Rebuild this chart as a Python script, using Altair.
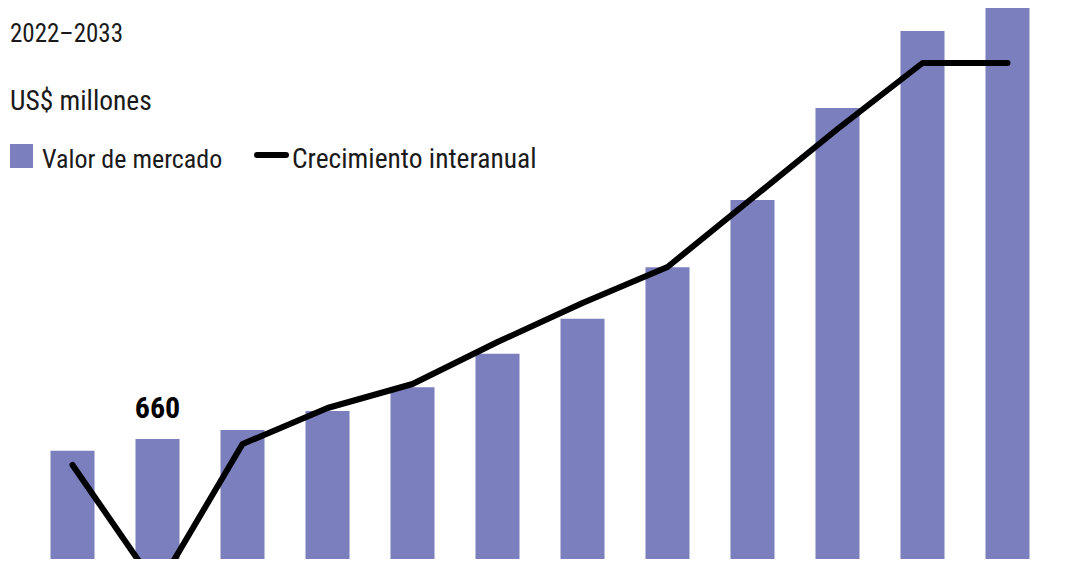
import altair as alt
import pandas as pd

years = ["2022", "2023", "2024", "2025", "2026", "2027", "2028", "2029", "2030", "2031", "2032", "2033"]
market_value = [643, 660, 673, 700, 734, 782, 832, 906, 1002, 1134, 1244, 1284]
yoy_growth = [4.5, 0.4, 5.2, 6.4, 7.2, 8.6, 9.9, 11.1, 13.4, 15.7, 17.9, 17.9]

title_text = "2022–2033"
unit_text = "US$ millones"
legend_bar = "Valor de mercado"
legend_line = "Crecimiento interanual"
highlight_year = "2023"

FONT = "Roboto Condensed, Liberation Sans Narrow, Arial Narrow, Roboto, sans-serif"
BAR_COLOR = "#7b7fbd"

df = pd.DataFrame({"year": years, "value": market_value, "growth": yoy_growth})

W, H = 1064, 551

xenc = alt.X("year:N", axis=None,
             scale=alt.Scale(paddingInner=0.482, paddingOuter=0.5))
yval = alt.Y("value:Q", axis=None, scale=alt.Scale(domain=[488.2, 1277], zero=False, nice=False))

bars = alt.Chart(df).mark_bar(color=BAR_COLOR, clip=True).encode(x=xenc, y=yval)

label = alt.Chart(df).transform_filter(
    alt.datum.year == highlight_year
).mark_text(font=FONT, fontSize=30, fontWeight="bold", color="#000000",
            baseline="bottom", dy=-15).encode(
    x=xenc, y=yval, text=alt.Text("value:Q"),
)

bar_layer = alt.layer(bars, label)

line = alt.Chart(df).mark_line(color="#000000", strokeWidth=6, strokeCap="round",
                               strokeJoin="round", clip=True).encode(
    x=xenc,
    y=alt.Y("growth:Q", axis=None, scale=alt.Scale(domain=[1.3667, 19.7333], zero=False, nice=False)),
)

one = alt.Data(values=[{}])

def txt(s, x, y, size=25, weight="normal"):
    return alt.Chart(one).mark_text(text=s, font=FONT, fontSize=size, fontWeight=weight,
                                    color="#1a1a1a", align="left", baseline="alphabetic").encode(
        x=alt.value(x), y=alt.value(y))

t1 = txt(title_text, 2, 34, 25)
t2 = txt(unit_text, 2, 102, 27.5)
t3 = txt(legend_bar, 34, 160, 26)
t4 = txt(legend_line, 284, 160, 27.5)

sq = alt.Chart(one).mark_rect(color=BAR_COLOR).encode(
    x=alt.value(2), x2=alt.value(25), y=alt.value(136), y2=alt.value(160))
lg = alt.Chart(one).mark_rule(color="#000000", strokeWidth=6, strokeCap="round").encode(
    x=alt.value(249), x2=alt.value(278), y=alt.value(147))

chart = alt.layer(bar_layer, line, t1, t2, t3, t4, sq, lg).resolve_scale(
    y="independent"
).properties(
    width=W, height=H, padding=0, background="white",
    autosize=alt.AutoSizeParams(type="none")
).configure_view(stroke=None, strokeWidth=0)

chart.save("out.html", embed_options={"renderer": "svg", "actions": False})
